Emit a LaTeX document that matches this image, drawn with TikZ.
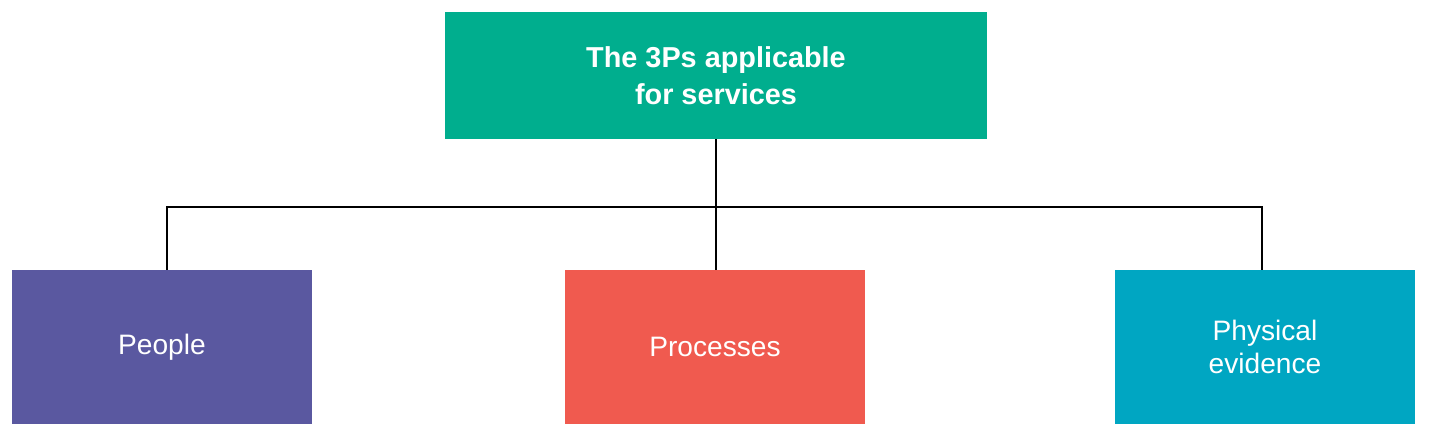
\documentclass[tikz,border=0pt]{standalone}
\usepackage{fontspec}
\setmainfont{Liberation Sans}
\usetikzlibrary{positioning}
\definecolor{topgreen}{HTML}{00AE8E}
\definecolor{ppurple}{HTML}{5A58A0}
\definecolor{pred}{HTML}{F05A4F}
\definecolor{pteal}{HTML}{00A6C2}
\begin{document}
\begin{tikzpicture}[x=0.025cm, y=-0.025cm,
  box/.style={inner sep=0pt, text=white, align=center, font=\fontsize{20}{24}\selectfont},
  leaf/.style={box, minimum width=7.5cm, minimum height=3.85cm},
  link/.style={draw=black, line width=0.9pt}]
  \useasboundingbox (0,0) rectangle (1431,432);
	\node[box, fill=topgreen, minimum width=13.55cm, minimum height=3.175cm, font=\fontsize{20.5}{26}\selectfont\bfseries] (root) at (716,75.5) {The 3Ps applicable\\for services};
%
	\node[leaf, fill=ppurple] (people) at (162,347) {People};
	\node[leaf, fill=pred] (proc) at (715,347) {Processes};
	\node[leaf, fill=pteal] (phys) at (1265,347) {Physical\\evidence};
%
  \coordinate (bus) at (716,207);
	\draw[link] (root.south) -- (bus);
	\draw[link] (people.north -| 167,0) |- (bus) -| (phys.north -| 1262,0);
	\draw[link] (bus) -- (proc.north -| bus);
\end{tikzpicture}
\end{document}
